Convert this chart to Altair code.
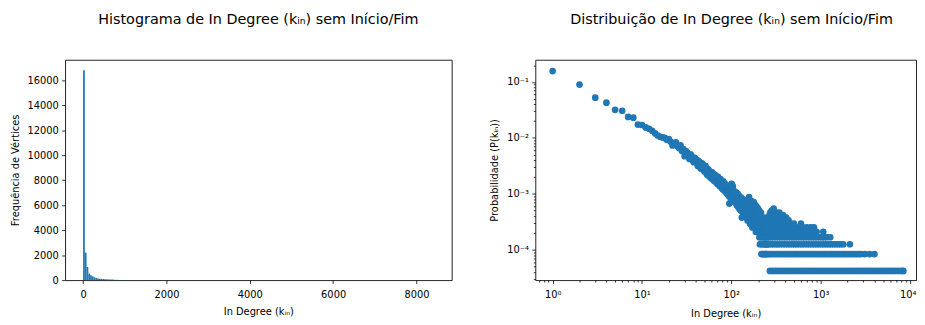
import altair as alt
import pandas as pd

# ---------------- text ----------------
TITLE_LEFT = "Histograma de In Degree (kᵢₙ) sem Início/Fim"
TITLE_RIGHT = "Distribuição de In Degree (kᵢₙ) sem Início/Fim"
X_TITLE = "In Degree (kᵢₙ)"
Y_TITLE_LEFT = "Frequência de Vértices"
Y_TITLE_RIGHT = "Probabilidade (P(kᵢₙ))"

# ---------------- left panel: histogram (200 bins) ----------------
HIST_MIN = 1
HIST_BIN_WIDTH = 42.16
hist_counts = [16800, 2200, 1050, 520, 380, 300, 220, 170, 130, 110,
               95, 85, 75, 60, 55, 45, 40, 35, 15, 25,
               14, 9, 11, 7, 8, 6, 5, 7, 4, 6,
               3, 5, 4, 2, 3, 4, 2, 3, 1, 2]
tail_bin_index = [45, 52, 58, 66, 74, 83, 92, 104, 118, 135, 160, 199]
tail_bin_counts = [2, 2, 1, 2, 1, 1, 1, 1, 1, 1, 1, 1]
hist_x_ticks = [0, 2000, 4000, 6000, 8000]
hist_y_ticks = [0, 2000, 4000, 6000, 8000, 10000, 12000, 14000, 16000]

# ---------------- right panel: degree distribution ----------------
N_TOTAL = 24000
# number of vertices for in-degree k = 1 .. 250
low_degree_counts = [
    3770, 2160, 1258, 1025, 763, 734, 569, 552, 415, 408,
    370, 350, 322, 290, 265, 252, 245, 240, 222, 228,
    205, 176, 187, 199, 170, 158, 176, 140, 152, 113,
    140, 131, 118, 101, 122, 112, 96, 88, 105, 90,
    97, 76, 92, 88, 70, 67, 84, 79, 64, 60,
    76, 71, 55, 52, 66, 63, 49, 60, 47, 45,
    58, 55, 43, 41, 53, 51, 39, 49, 38, 36,
    48, 46, 35, 33, 44, 43, 32, 41, 30, 29,
    40, 38, 28, 37, 27, 35, 26, 34, 25, 24,
    33, 23, 32, 22, 16, 31, 21, 30, 20, 29,
    36, 24, 27, 33, 28, 19, 25, 22, 17, 26,
    20, 23, 18, 25, 15, 21, 19, 24, 14, 20,
    17, 22, 13, 19, 16, 21, 12, 18, 15, 20,
    9, 17, 14, 19, 11, 16, 13, 18, 10, 15,
    12, 17, 10, 14, 18, 11, 13, 9, 16, 12,
    14, 8, 19, 11, 15, 9, 13, 21, 10, 12,
    16, 7, 11, 14, 9, 18, 12, 8, 13, 10,
    15, 6, 11, 9, 14, 8, 12, 17, 7, 10,
    13, 9, 6, 11, 8, 15, 10, 5, 12, 7,
    9, 14, 6, 10, 8, 5, 11, 7, 13, 6,
    9, 5, 8, 12, 6, 4, 10, 7, 3, 8,
    5, 9, 6, 4, 11, 7, 2, 8, 5, 3,
    6, 9, 4, 7, 2, 5, 8, 3, 6, 4,
    2, 7, 5, 3, 9, 4, 6, 2, 5, 3,
    7, 4, 2, 6, 3, 5, 8, 2, 4, 3,
]
# degrees above 250, grouped by how many vertices have them
deg_count_1 = [270, 290, 312, 335, 360, 387, 416, 447, 480, 516, 555, 597, 641, 689, 741,
               796, 856, 920, 989, 1063, 1143, 1228, 1320, 1419, 1525, 1640, 1762, 1894,
               2036, 2189, 2353, 2529, 2719, 2922, 3141, 3377, 3630, 3902, 4194, 4509,
               4847, 5210, 5600, 6020, 6472, 6957, 7478, 8039, 8420]
deg_count_2 = [258, 271, 287, 305, 323, 343, 365, 389, 413, 439, 467, 497, 529, 563, 599,
               637, 677, 721, 767, 815, 867, 923, 981, 1043, 1111, 1181, 1257, 1337, 1423,
               1513, 1611, 1713, 1823, 1939, 2063, 2195, 2337, 2487, 2647, 2817, 3099,
               3521, 3997]
deg_count_3 = [253, 264, 279, 296, 315, 331, 352, 377, 401, 426, 453, 482, 511, 545, 581,
               619, 661, 707, 751, 801, 853, 907, 965, 1027, 1093, 1163, 1237, 1313, 1397,
               1487, 1581, 1683, 1791, 2121]
deg_count_4 = [255, 268, 282, 299, 318, 338, 357, 381, 405, 431, 461, 489, 519, 551, 587,
               627, 667, 713, 759, 809, 861, 915, 975, 1037, 1101, 1171, 1277]
deg_count_5 = [257, 277, 297, 321, 346, 371, 397, 433, 471, 509, 547, 593, 643, 701, 761,
               833, 901, 1069]
deg_count_6 = [262, 285, 313, 341, 369, 403, 443, 487, 535, 589, 631, 697, 773, 841]
deg_count_7 = [259, 281, 301, 327, 355, 384, 421, 457, 501, 601]
deg_count_8 = [265, 289, 311, 339, 363, 393, 437]
deg_count_9 = [263, 292, 319, 358, 411]
deg_count_10 = [267, 307, 333, 379]
deg_count_11 = [273, 317, 345]
deg_count_12 = [283]
deg_count_13 = [298]

x_decades = [1, 10, 100, 1000, 10000]
y_decades = [1e-5, 1e-4, 1e-3, 1e-2, 1e-1]
minor_mult = [2, 3, 4, 5, 6, 7, 8, 9]

# ---------------- build tables ----------------
hist_rows = []
for i, c in enumerate(hist_counts):
    hist_rows.append({"start": HIST_MIN + i * HIST_BIN_WIDTH,
                      "end": HIST_MIN + (i + 1) * HIST_BIN_WIDTH, "count": c})
for i, c in zip(tail_bin_index, tail_bin_counts):
    hist_rows.append({"start": HIST_MIN + i * HIST_BIN_WIDTH,
                      "end": HIST_MIN + (i + 1) * HIST_BIN_WIDTH, "count": c})
hist_df = pd.DataFrame(hist_rows)

pts = [(k, c) for k, c in zip(range(1, len(low_degree_counts) + 1), low_degree_counts)]
levels = [deg_count_1, deg_count_2, deg_count_3, deg_count_4, deg_count_5, deg_count_6,
          deg_count_7, deg_count_8, deg_count_9, deg_count_10, deg_count_11,
          deg_count_12, deg_count_13]
for lvl, ks in enumerate(levels, start=1):
    pts += [(k, lvl) for k in ks]
deg_df = pd.DataFrame(pts, columns=["k", "count"])
deg_df["p"] = deg_df["count"] / N_TOTAL

X_MIN, X_MAX = 0.6397, 11668
Y_MIN, Y_MAX = 2.85e-5, 0.2506
x_tick_vals = [0.7, 0.8, 0.9]
for d in x_decades:
    x_tick_vals.append(d)
    if d < 10000:
        x_tick_vals += [d * m for m in minor_mult]
y_tick_vals = []
for d in y_decades:
    y_tick_vals.append(d)
    y_tick_vals += [d * m for m in minor_mult]
y_tick_vals = [v for v in y_tick_vals if Y_MIN <= v <= Y_MAX]

IS_DECADE = "abs(log(datum.value)/LN10 - round(log(datum.value)/LN10)) < 1e-6"
SUP = "['⁰','¹','²','³','⁴','⁵']"
X_LABEL = f"{IS_DECADE} ? '10' + {SUP}[round(log(datum.value)/LN10)] : ''"
Y_LABEL = f"{IS_DECADE} ? '10⁻' + {SUP}[round(-log(datum.value)/LN10)] : ''"
TICK_SIZE = {"condition": {"test": IS_DECADE, "value": 3.5}, "value": 2}

BLUE = "#1f77b4"

left = alt.Chart(hist_df).mark_rect(color=BLUE).encode(
    x=alt.X("start:Q",
            scale=alt.Scale(domain=[-431, 8844], nice=False, zero=False),
            axis=alt.Axis(values=hist_x_ticks, format="d", title=X_TITLE,
                          labelPadding=6, titlePadding=7)),
    x2="end:Q",
    y=alt.Y("count:Q",
            scale=alt.Scale(domain=[0, 17640], nice=False),
            axis=alt.Axis(values=hist_y_ticks, format="d", title=Y_TITLE_LEFT, titlePadding=7)),
    y2=alt.datum(0),
).properties(
    width=393, height=224,
    title=alt.TitleParams(TITLE_LEFT, offset=22, baseline="alphabetic", frame="group"),
)

right = alt.Chart(deg_df).mark_circle(size=46, opacity=1, color=BLUE).encode(
    x=alt.X("k:Q",
            scale=alt.Scale(type="log", domain=[X_MIN, X_MAX], nice=False),
            axis=alt.Axis(values=x_tick_vals, labelExpr=X_LABEL, tickSize=TICK_SIZE,
                          labelOverlap=False, labelFlush=8, labelFlushOffset=6,
                          labelPadding=6, title=X_TITLE, titlePadding=10)),
    y=alt.Y("p:Q",
            scale=alt.Scale(type="log", domain=[Y_MIN, Y_MAX], nice=False),
            axis=alt.Axis(values=y_tick_vals, labelExpr=Y_LABEL, tickSize=TICK_SIZE,
                          labelOverlap=False, title=Y_TITLE_RIGHT, titlePadding=7)),
).properties(
    width=387, height=224,
    title=alt.TitleParams(TITLE_RIGHT, offset=22, baseline="alphabetic", frame="group", dx=6),
)

chart = alt.hconcat(left, right, spacing=37).properties(
    padding={"left": 1, "top": 0, "right": 0, "bottom": 0}
).configure_view(
    stroke="#222", strokeWidth=1
).configure_axis(
    labelFont="DejaVu Sans", labelFontSize=10, labelColor="#000",
    titleFont="DejaVu Sans", titleFontSize=10, titleFontWeight="normal", titleColor="#000",
    tickColor="#000", tickWidth=0.8, tickSize=3.5, labelPadding=3.5,
    domain=False, grid=False,
).configure_title(
    font="DejaVu Sans", fontSize=14.6, fontWeight="normal", color="#000", anchor="middle"
)

chart.save("out.html", embed_options={"renderer": "svg", "actions": False})
